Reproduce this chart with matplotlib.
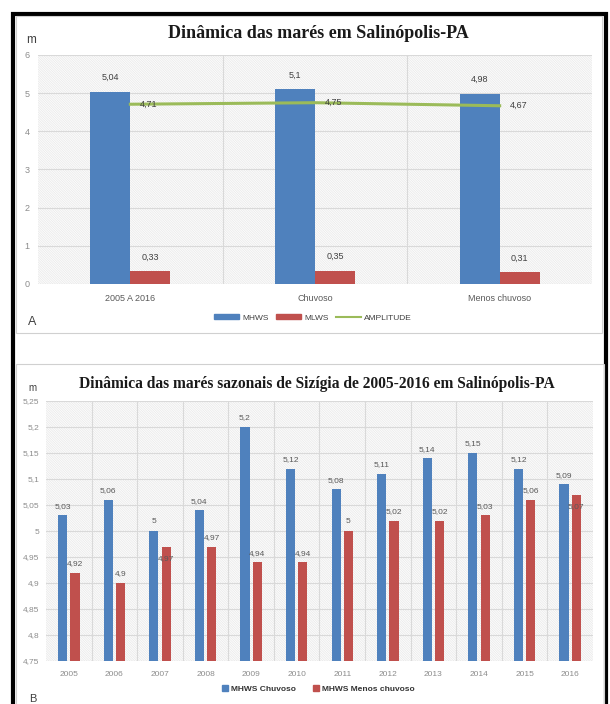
import matplotlib.pyplot as plt
import matplotlib.patches as mpatches
from matplotlib.lines import Line2D
import numpy as np

# painel A - média geral e sazonal
periodos = ["2005 A 2016", "Chuvoso", "Menos chuvoso"]
mhws = [5.04, 5.1, 4.98]
mlws = [0.33, 0.35, 0.31]
amplitude = [4.71, 4.75, 4.67]

# painel B - sizígia por ano
anos = ["2005", "2006", "2007", "2008", "2009", "2010",
        "2011", "2012", "2013", "2014", "2015", "2016"]
mhws_chuvoso = [5.03, 5.06, 5, 5.04, 5.2, 5.12, 5.08, 5.11, 5.14, 5.15, 5.12, 5.09]
mhws_menos = [4.92, 4.9, 4.97, 4.97, 4.94, 4.94, 5, 5.02, 5.02, 5.03, 5.06, 5.07]
yticks_b = [4.75, 4.8, 4.85, 4.9, 4.95, 5, 5.05, 5.1, 5.15, 5.2, 5.25]

AZUL = "#4F81BD"
VERMELHO = "#C0504D"
VERDE = "#9BBB59"
GRADE = "#d9d9d9"
TXT = "#404040"
TICK = "#8c8c8c"

W, H = 610, 704
plt.rcParams["font.family"] = ["Liberation Sans", "DejaVu Sans"]
plt.rcParams["hatch.linewidth"] = 0.35


def fmt(v):
    return f"{v:g}".replace(".", ",")


def px(x0, y0, x1, y1):
    # caixa em pixels -> fração da figura
    return [x0 / W, 1 - y1 / H, (x1 - x0) / W, (y1 - y0) / H]


def fundo(ax):
    ax.add_patch(mpatches.Rectangle((0, 0), 1, 1, transform=ax.transAxes,
                                    facecolor="#fbfbfb", edgecolor="#e3e3e3",
                                    hatch="\\" * 14, lw=0, zorder=0))
    for s in ax.spines.values():
        s.set_visible(False)
    ax.tick_params(length=0)
    ax.grid(True, which="major", axis="y", color=GRADE, lw=0.8, zorder=1)
    ax.grid(True, which="minor", axis="x", color=GRADE, lw=0.8, zorder=1)
    ax.set_axisbelow(True)


fig = plt.figure(figsize=(W / 100, H / 100), dpi=100)
fig.patch.set_facecolor("white")

# moldura preta e caixas dos painéis
fig.add_artist(mpatches.Rectangle((13 / W, -0.05), 592.5 / W, 1.05 - 13.5 / H,
                                  transform=fig.transFigure, fill=False,
                                  edgecolor="black", lw=3, zorder=0))
fig.add_artist(mpatches.Rectangle((16 / W, 1 - 333 / H), 586 / W, 317 / H,
                                  transform=fig.transFigure, fill=False,
                                  edgecolor="#d0d0d0", lw=0.8, zorder=0))
fig.add_artist(mpatches.Rectangle((16 / W, -0.05), 588 / W, 0.05 + 1 - 364 / H,
                                  transform=fig.transFigure, fill=False,
                                  edgecolor="#d0d0d0", lw=0.8, zorder=0))

# ---------- painel A ----------
axa = fig.add_axes(px(38, 55, 592, 284))
fundo(axa)
x = np.arange(len(periodos))
bw = 0.216
axa.bar(x - bw / 2, mhws, bw, color=AZUL, zorder=3, label="MHWS")
axa.bar(x + bw / 2, mlws, bw, color=VERMELHO, zorder=3, label="MLWS")
axa.plot(x, amplitude, color=VERDE, lw=2.2, zorder=4, label="AMPLITUDE")
for i in x:
    axa.annotate(fmt(mhws[i]), (i - bw / 2, mhws[i]), xytext=(0, 7),
                 textcoords="offset points", ha="center", va="bottom",
                 fontsize=6.5, color=TXT)
    axa.annotate(fmt(mlws[i]), (i + bw / 2, mlws[i]), xytext=(0, 7),
                 textcoords="offset points", ha="center", va="bottom",
                 fontsize=6.5, color=TXT)
    axa.annotate(fmt(amplitude[i]), (i, amplitude[i]), xytext=(7, 0),
                 textcoords="offset points", ha="left", va="center",
                 fontsize=6.5, color=TXT, zorder=5)
axa.set_xlim(-0.5, 2.5)
axa.set_ylim(0, 6)
axa.set_yticks(range(7))
axa.set_xticks(x)
axa.set_xticks([0.5, 1.5], minor=True)
axa.set_xticklabels(periodos, fontsize=6.5, color="#595959")
axa.tick_params(axis="x", which="minor", length=0)
axa.tick_params(axis="y", labelsize=6.5, labelcolor=TICK, pad=6)
axa.tick_params(axis="x", pad=7)

fig.text(318 / W, 1 - 33 / H, "Dinâmica das marés em Salinópolis-PA",
         ha="center", va="center", fontsize=13, fontweight="bold",
         family="Liberation Serif", color="#1a1a1a")
fig.text(26 / W, 1 - 40 / H, "m", ha="left", va="center", fontsize=8.5, color=TXT)
fig.text(28 / W, 1 - 322 / H, "A", ha="left", va="center", fontsize=9, color=TXT)

leg_a = [mpatches.Patch(color=AZUL, label="MHWS"),
         mpatches.Patch(color=VERMELHO, label="MLWS"),
         Line2D([], [], color=VERDE, lw=1.5, label="AMPLITUDE")]
fig.legend(handles=leg_a, loc="center", bbox_to_anchor=(313 / W, 1 - 318 / H),
           ncol=3, frameon=False, fontsize=6, handlelength=3.0,
           handleheight=0.55, columnspacing=0.9, handletextpad=0.35,
           labelcolor=TXT)

# ---------- painel B ----------
axb = fig.add_axes(px(46, 401, 593, 661))
fundo(axb)
xb = np.arange(len(anos))
bwb = 0.2
off = 0.135
axb.bar(xb - off, mhws_chuvoso, bwb, color=AZUL, zorder=3)
axb.bar(xb + off, mhws_menos, bwb, color=VERMELHO, zorder=3)
rotulos_dentro = {"2007", "2016"}
for i in xb:
    axb.annotate(fmt(mhws_chuvoso[i]), (i - off, mhws_chuvoso[i]), xytext=(0, 4),
                 textcoords="offset points", ha="center", va="bottom",
                 fontsize=6, color="#595959")
    dy = -11 if anos[i] in rotulos_dentro else 4
    axb.annotate(fmt(mhws_menos[i]), (i + off, mhws_menos[i]), xytext=(0, dy),
                 textcoords="offset points", ha="center", va="bottom",
                 fontsize=6, color="#595959", zorder=5)
axb.set_xlim(-0.5, 11.5)
axb.set_ylim(4.75, 5.25)
axb.set_yticks(yticks_b)
axb.set_yticklabels([fmt(v) for v in yticks_b])
axb.set_xticks(xb)
axb.set_xticks(xb[:-1] + 0.5, minor=True)
axb.set_xticklabels(anos, fontsize=6, color=TICK)
axb.tick_params(axis="x", which="minor", length=0)
axb.tick_params(axis="y", labelsize=6, labelcolor=TICK, pad=5)
axb.tick_params(axis="x", pad=7)

fig.text(317 / W, 1 - 384 / H,
         "Dinâmica das marés sazonais de Sizígia de 2005-2016 em Salinópolis-PA",
         ha="center", va="center", fontsize=11.2, fontweight="bold",
         family="Liberation Serif", color="#1a1a1a")
fig.text(28 / W, 1 - 388 / H, "m", ha="left", va="center", fontsize=7, color=TXT)
fig.text(29 / W, 1 - 699 / H, "B", ha="left", va="center", fontsize=8, color=TXT)

leg_b = [Line2D([], [], marker="s", ls="none", color=AZUL, markersize=4,
                label="MHWS Chuvoso"),
         Line2D([], [], marker="s", ls="none", color=VERMELHO, markersize=4,
                label="MHWS Menos chuvoso")]
fig.legend(handles=leg_b, loc="center", bbox_to_anchor=(318 / W, 1 - 689 / H),
           ncol=2, frameon=False, fontsize=6, handlelength=0.8,
           columnspacing=2.0, handletextpad=0.3, labelcolor="#333333",
           prop={"weight": "bold", "size": 6})

fig.savefig("out.png", dpi=100)
